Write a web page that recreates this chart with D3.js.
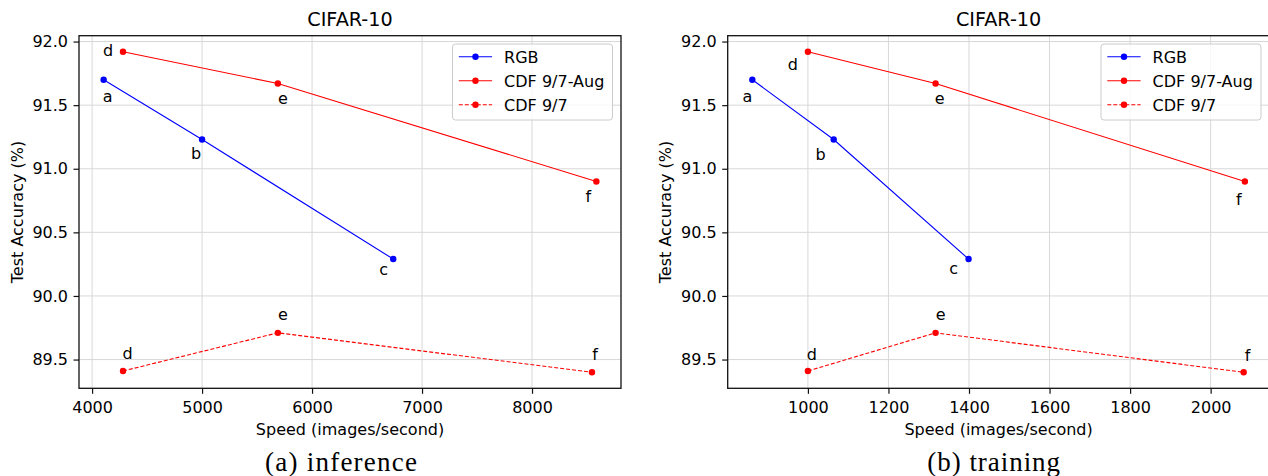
<!DOCTYPE html>
<html>
<head>
<meta charset="utf-8">
<script src="https://cdn.jsdelivr.net/npm/d3@7"></script>
<style>
  body { margin: 0; background: #fff; }
  text { font-family: "DejaVu Sans", sans-serif; fill: #000; }
</style>
</head>
<body>
<div id="chart"></div>
<script>
// values
const seriesNames = ['RGB', 'CDF 9/7-Aug', 'CDF 9/7'];
const rgbLetters = ['a', 'b', 'c'];
const cdfLetters = ['d', 'e', 'f'];
const rgbAcc = [91.70, 91.23, 90.29];
const augAcc = [91.92, 91.67, 90.90];
const plainAcc = [89.41, 89.71, 89.40];
const inferRgbSpeed = [4105, 5000, 6738];
const inferAugSpeed = [4281, 5689, 8585];
const inferPlainSpeed = [4281, 5689, 8545];
const trainRgbSpeed = [862, 1064, 1399];
const trainAugSpeed = [1000, 1317, 2085];
const trainPlainSpeed = [1000, 1317, 2082];
const inferTicks = [4000, 5000, 6000, 7000, 8000];
const trainTicks = [1000, 1200, 1400, 1600, 1800, 2000];
const accTicks = [89.5, 90.0, 90.5, 91.0, 91.5, 92.0];

// where the letter annotations sit relative to their point (pixels)
const inferShift = {
  rgb: [[4, 18], [-6, 14], [-9.5, 12]],
  aug: [[-15, -2], [5, 16], [-8, 15]],
  plain: [[4.5, -18], [5, -17], [3, -18]]
};
const trainShift = {
  rgb: [[-5, 18], [-13, 15], [-15, 11]],
  aug: [[-15, 12], [4, 16], [-6, 18]],
  plain: [[4, -17], [5, -17], [4, -17]]
};

const W = 1268, H = 476;
const plotTop = 35.7, plotBottom = 388.3;
const fontSize = 16;

const svg = d3.select('#chart').append('svg')
    .attr('width', W)
    .attr('height', H);

// matplotlib style 5% padding around the data
function padded(vals) {
  const [lo, hi] = d3.extent(vals);
  const m = (hi - lo) * 0.05;
  return [lo - m, hi + m];
}

const yDomain = padded(rgbAcc.concat(augAcc, plainAcc));

function drawPanel(cfg) {
  const x = d3.scaleLinear()
      .domain(padded(cfg.rgb.concat(cfg.aug, cfg.plain)))
      .range([cfg.left, cfg.right]);
  const y = d3.scaleLinear()
      .domain(yDomain)
      .range([plotBottom, plotTop]);

  const g = svg.append('g');

  // clip so that the right panel gets cut by the window like in the picture
  const clipId = 'clip' + cfg.id;
  svg.append('clipPath').attr('id', clipId)
    .append('rect')
      .attr('x', cfg.left).attr('y', plotTop)
      .attr('width', cfg.right - cfg.left).attr('height', plotBottom - plotTop);

  // grid
  g.append('g').selectAll('line')
      .data(cfg.ticks)
    .join('line')
      .attr('x1', d => x(d)).attr('x2', d => x(d))
      .attr('y1', plotTop).attr('y2', plotBottom)
      .attr('stroke', '#d8d8d8').attr('stroke-width', 1);
  g.append('g').selectAll('line')
      .data(accTicks)
    .join('line')
      .attr('x1', cfg.left).attr('x2', cfg.right)
      .attr('y1', d => y(d)).attr('y2', d => y(d))
      .attr('stroke', '#d8d8d8').attr('stroke-width', 1);

  const series = [
    { xs: cfg.rgb, ys: rgbAcc, color: '#0000ff', dash: null, letters: rgbLetters, shift: cfg.shift.rgb },
    { xs: cfg.aug, ys: augAcc, color: '#ff0000', dash: null, letters: cdfLetters, shift: cfg.shift.aug },
    { xs: cfg.plain, ys: plainAcc, color: '#ff0000', dash: '4,2', letters: cdfLetters, shift: cfg.shift.plain }
  ];

  const line = d3.line().x(d => x(d[0])).y(d => y(d[1]));
  const plot = g.append('g').attr('clip-path', `url(#${clipId})`);

  series.forEach(s => {
    const pts = s.xs.map((v, i) => [v, s.ys[i]]);
    plot.append('path')
        .datum(pts)
        .attr('d', line)
        .attr('fill', 'none')
        .attr('stroke', s.color)
        .attr('stroke-width', 1.1)
        .attr('stroke-dasharray', s.dash);
    plot.selectAll(null)
        .data(pts)
      .join('circle')
        .attr('cx', d => x(d[0]))
        .attr('cy', d => y(d[1]))
        .attr('r', 3.2)
        .attr('fill', s.color);
    plot.selectAll(null)
        .data(pts)
      .join('text')
        .attr('text-anchor', 'middle')
        .attr('font-size', fontSize)
        .attr('x', (d, i) => x(d[0]) + s.shift[i][0])
        .attr('y', (d, i) => y(d[1]) + s.shift[i][1] + ('bdf'.includes(s.letters[i]) ? 6 : 4.3))
        .text((d, i) => s.letters[i]);
  });

  // legend
  const lg = g.append('g').attr('transform', `translate(${cfg.right - 168.5},44)`);
  lg.append('rect')
      .attr('width', 160).attr('height', 76)
      .attr('rx', 3)
      .attr('fill', '#fff').attr('fill-opacity', 0.8)
      .attr('stroke', '#cccccc').attr('stroke-width', 1);
  series.forEach((s, i) => {
    const ly = 12.7 + i * 24;
    lg.append('line')
        .attr('x1', 6.3).attr('x2', 39.6)
        .attr('y1', ly).attr('y2', ly)
        .attr('stroke', s.color).attr('stroke-width', 1.1)
        .attr('stroke-dasharray', s.dash);
    lg.append('circle')
        .attr('cx', 23).attr('cy', ly).attr('r', 3.2)
        .attr('fill', s.color);
    lg.append('text')
        .attr('x', 51.6).attr('y', ly + 5.8)
        .attr('font-size', fontSize)
        .text(seriesNames[i]);
  });

  // spines
  g.append('rect')
      .attr('x', cfg.left).attr('y', plotTop)
      .attr('width', cfg.right - cfg.left).attr('height', plotBottom - plotTop)
      .attr('fill', 'none').attr('stroke', '#111').attr('stroke-width', 1.3);

  // axes
  const xAxis = g.append('g')
      .attr('transform', `translate(0,${plotBottom})`)
      .call(d3.axisBottom(x).tickValues(cfg.ticks).tickFormat(d3.format('d')).tickSizeOuter(0).tickSize(5.5).tickPadding(8));
  const yAxis = g.append('g')
      .attr('transform', `translate(${cfg.left},0)`)
      .call(d3.axisLeft(y).tickValues(accTicks).tickFormat(d3.format('.1f')).tickSizeOuter(0).tickSize(5.5).tickPadding(5.5));
  [xAxis, yAxis].forEach(a => {
    a.select('.domain').remove();
    a.selectAll('.tick line').attr('stroke', '#111').attr('stroke-width', 1.2);
    a.selectAll('.tick text')
        .attr('font-size', fontSize)
        .attr('font-family', '"DejaVu Sans", sans-serif')
        .attr('fill', '#000');
  });

  const cx = (cfg.left + cfg.right) / 2;
  g.append('text')
      .attr('x', cx).attr('y', 26)
      .attr('text-anchor', 'middle')
      .attr('font-size', 19.2)
      .text('CIFAR-10');
  g.append('text')
      .attr('x', cx).attr('y', 434.5)
      .attr('text-anchor', 'middle')
      .attr('font-size', fontSize)
      .text('Speed (images/second)');
  g.append('text')
      .attr('transform', `translate(${cfg.ylabelX},${(plotTop + plotBottom) / 2}) rotate(-90)`)
      .attr('text-anchor', 'middle')
      .attr('font-size', fontSize)
      .text('Test Accuracy (%)');
  g.append('text')
      .attr('x', cfg.captionX).attr('y', 470.5)
      .attr('text-anchor', 'middle')
      .attr('font-size', 27)
      .style('font-family', '"Liberation Serif", serif')
      .attr('textLength', cfg.captionW)
      .attr('lengthAdjust', 'spacing')
      .text(cfg.caption);
}

drawPanel({
  id: 'a', left: 79, right: 621,
  rgb: inferRgbSpeed, aug: inferAugSpeed, plain: inferPlainSpeed,
  ticks: inferTicks, shift: inferShift,
  ylabelX: 23, captionX: 341, captionW: 152, caption: '(a) inference'
});
drawPanel({
  id: 'b', left: 727.7, right: 1269.5,
  rgb: trainRgbSpeed, aug: trainAugSpeed, plain: trainPlainSpeed,
  ticks: trainTicks, shift: trainShift,
  ylabelX: 671, captionX: 993.7, captionW: 132.7, caption: '(b) training'
});
</script>
</body>
</html>
